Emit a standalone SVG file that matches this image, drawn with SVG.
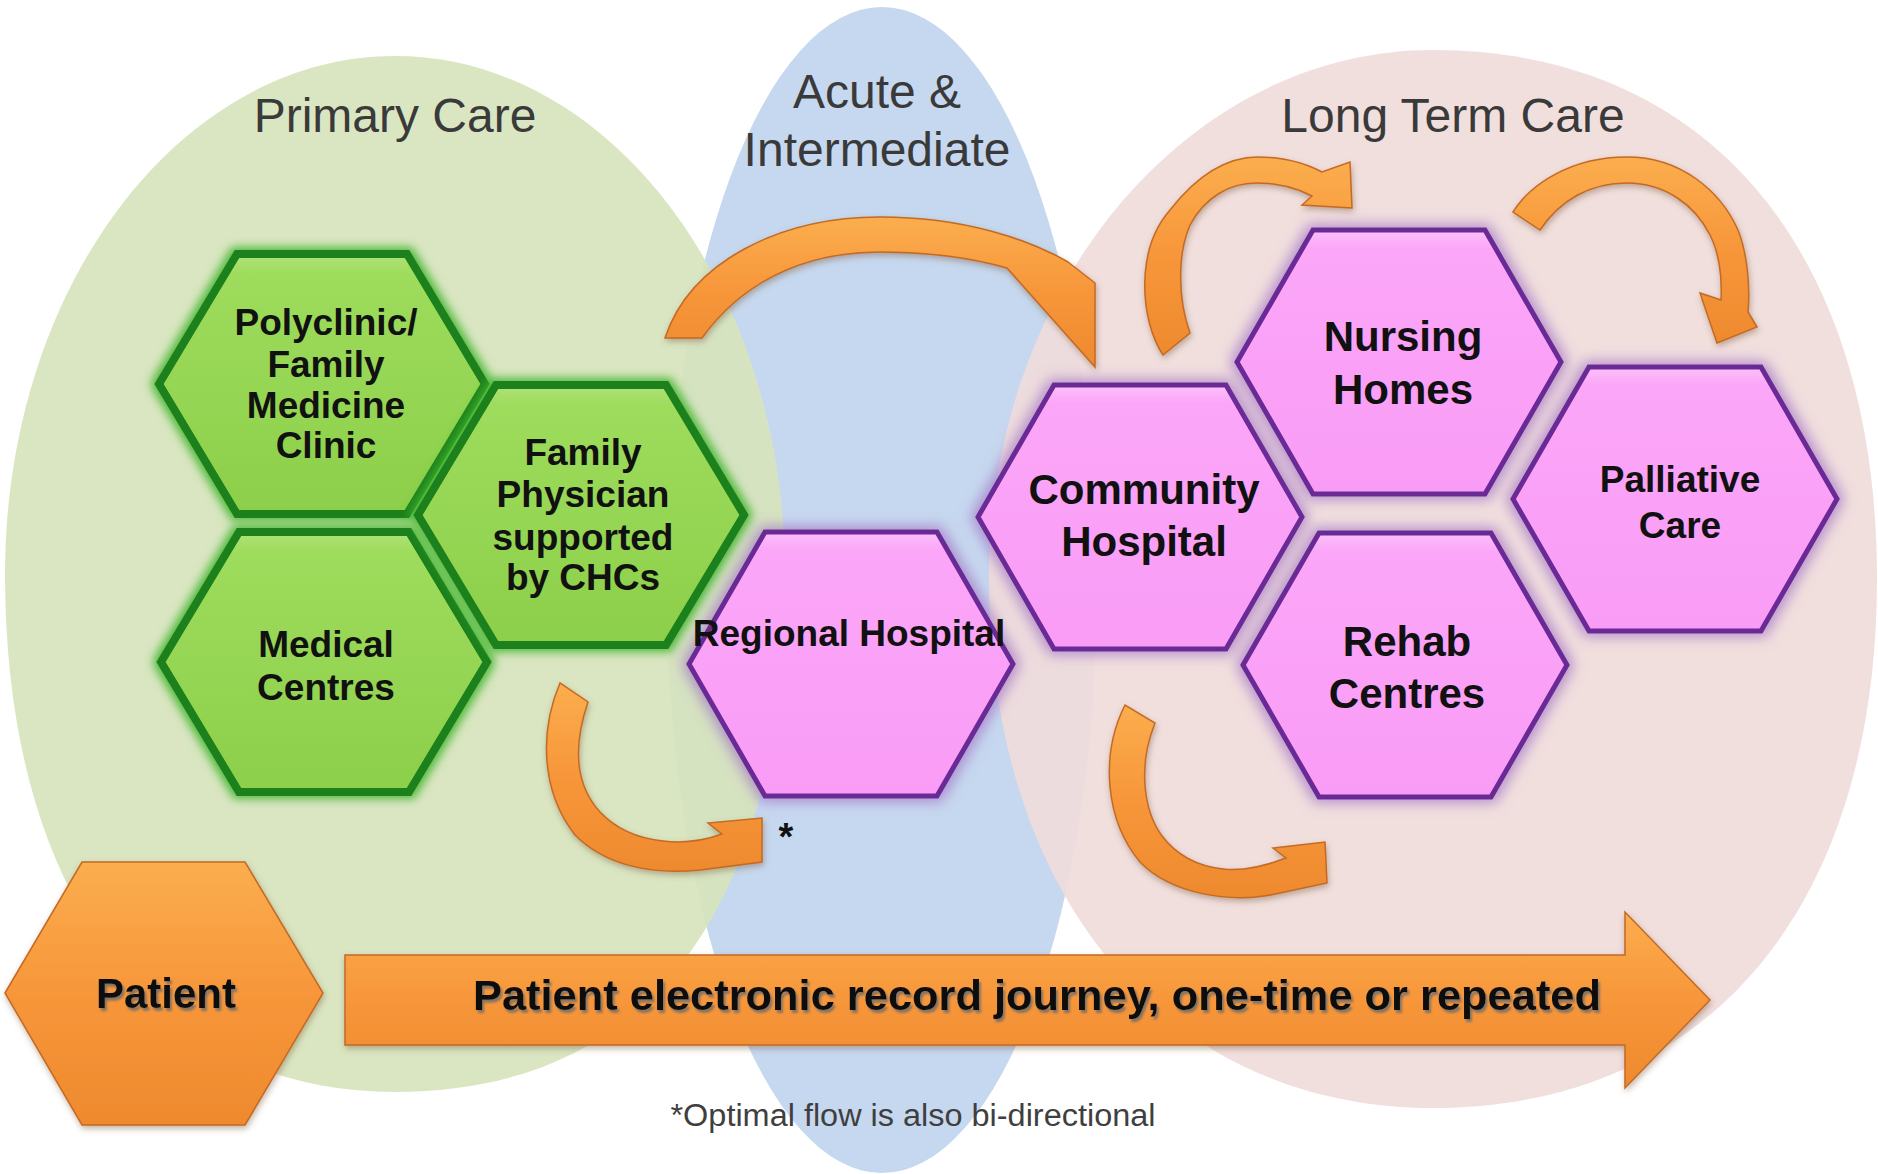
<svg xmlns="http://www.w3.org/2000/svg" xmlns:xlink="http://www.w3.org/1999/xlink" width="1878" height="1174" viewBox="0 0 1878 1174">
<style>
.title{font-family:"Liberation Sans",Arial,sans-serif;font-size:48px;fill:#3a3a3a;text-anchor:middle}
.lbl{font-family:"Liberation Sans",Arial,sans-serif;font-weight:bold;fill:#111;text-anchor:middle}
.s37{font-size:37px}
.s42{font-size:42px}
.green{fill:url(#gGreen);stroke:#1a801a;stroke-width:8;stroke-linejoin:miter;filter:url(#glowG)}
.pink{fill:url(#gPink);stroke:#6a2a96;stroke-width:5;stroke-linejoin:miter;filter:url(#glowP)}
.orange{fill:url(#gOrange);stroke:#c46a24;stroke-width:1.5;filter:url(#shadowO)}
.sh{filter:url(#tShadow)}
</style>
<defs>
<linearGradient id="gGreen" x1="0" y1="0" x2="0" y2="1">
<stop offset="0" stop-color="#aee277"/><stop offset="0.08" stop-color="#9edc5c"/><stop offset="1" stop-color="#8ccf4a"/>
</linearGradient>
<linearGradient id="gPink" x1="0" y1="0" x2="0" y2="1">
<stop offset="0" stop-color="#fcc0fb"/><stop offset="0.07" stop-color="#fba6f8"/><stop offset="1" stop-color="#f99cf6"/>
</linearGradient>
<linearGradient id="gOrange" x1="0" y1="0" x2="0" y2="1">
<stop offset="0" stop-color="#fbae4e"/><stop offset="0.5" stop-color="#f7963a"/><stop offset="1" stop-color="#ee8a2e"/>
</linearGradient>
<filter id="glowG" x="-20%" y="-20%" width="140%" height="140%">
<feMorphology in="SourceAlpha" operator="dilate" radius="3" result="d"/>
<feGaussianBlur in="d" stdDeviation="5" result="b"/>
<feFlood flood-color="#3fb42a" flood-opacity="0.9"/>
<feComposite in2="b" operator="in" result="g"/>
<feMerge><feMergeNode in="g"/><feMergeNode in="SourceGraphic"/></feMerge>
</filter>
<filter id="glowP" x="-20%" y="-20%" width="140%" height="140%">
<feMorphology in="SourceAlpha" operator="dilate" radius="3" result="d"/>
<feGaussianBlur in="d" stdDeviation="7" result="b"/>
<feFlood flood-color="#a070c4" flood-opacity="0.75"/>
<feComposite in2="b" operator="in" result="g"/>
<feMerge><feMergeNode in="g"/><feMergeNode in="SourceGraphic"/></feMerge>
</filter>
<filter id="shadowO" x="-20%" y="-20%" width="140%" height="140%">
<feDropShadow dx="1" dy="3" stdDeviation="3" flood-color="#7a5a3a" flood-opacity="0.45"/>
</filter>
<filter id="tShadow" x="-10%" y="-30%" width="120%" height="160%">
<feDropShadow dx="2" dy="3" stdDeviation="1" flood-color="#6a6a6a" flood-opacity="0.8"/>
</filter>
<polygon id="hexG" points="-163,0 -85,-130 85,-130 163,0 85,130 -85,130"/>
<polygon id="hexP" points="-162,0 -86,-132 86,-132 162,0 86,132 -86,132"/>
</defs>

<rect width="1878" height="1174" fill="#ffffff"/>

<g id="regions">
<ellipse id="region-acute" cx="882" cy="590" rx="215" ry="583" fill="#c6d8ef"/>
<path id="region-primary" d="M 785,574 C 785,910.7 648.5,1092 395,1092 C 153.2,1092 5,895.2 5,574 C 5,288 179.7,56 395,56 C 610.3,56 785,288 785,574 Z" fill="#d7e4bd" fill-opacity="0.92"/>
<path id="region-ltc" d="M 1877,579 C 1877,907 1708.3,1108 1433,1108 C 1166.6,1108 989,896.4 989,579 C 989,287 1187.9,50 1433,50 C 1708.3,50 1877,251 1877,579 Z" fill="#f0dcdb" fill-opacity="0.92"/>
<text class="title" x="395" y="132">Primary Care</text>
<text class="title" x="877" y="108">Acute &amp;</text>
<text class="title" x="877" y="166">Intermediate</text>
<text class="title" x="1453" y="132">Long Term Care</text>
</g>

<g id="connectors">
<path class="orange" d="M 665,338 C 690,262 780,217 880,217 C 965,217 1030,240 1068,262 L 1095,283 L 1095,367 L 1007,268 C 965,256 925,252 880,252 C 800,252 740,285 702,338 Z"/>
<path class="orange" d="M 1163,355 C 1140,320 1135,250 1170,210 C 1195,178 1225,157 1258,157 C 1285,157 1305,163 1322,172 L 1350,162 L 1352,208 L 1302,205 L 1312,196 C 1295,187 1275,183 1256,183 C 1230,183 1205,197 1190,225 C 1177,255 1178,300 1190,333 Z"/>
<path class="orange" d="M 1513,212 C 1530,185 1570,157 1627,157 C 1680,157 1720,190 1738,230 C 1748,255 1750,290 1748,312 L 1757,327 L 1717,343 L 1700,293 L 1721,300 C 1722,280 1720,255 1710,235 C 1695,205 1665,183 1627,183 C 1590,183 1560,200 1540,230 Z"/>
<path class="orange" d="M 560,683 C 540,730 540,790 575,835 C 605,865 650,875 700,870 L 762,862 L 762,818 L 708,823 L 722,834 C 700,842 680,843 663,841 C 635,838 615,828 600,812 C 580,790 570,755 588,702 Z"/>
<path class="orange" d="M 1125,705 C 1100,755 1105,820 1140,862 C 1170,893 1230,905 1280,893 L 1327,883 L 1325,842 L 1273,848 L 1286,858 C 1260,868 1240,871 1223,869 C 1195,866 1175,853 1162,836 C 1143,810 1138,765 1155,723 Z"/>
<path id="journey-arrow" class="orange" d="M 345,955 L 1625,955 L 1625,912 L 1710,1000 L 1625,1088 L 1625,1045 L 345,1045 Z"/>
<text class="lbl s42 sh" x="1037" y="1010" textLength="1128" lengthAdjust="spacingAndGlyphs">Patient electronic record journey, one-time or repeated</text>
</g>

<g id="node-polyclinic">
<use href="#hexG" x="322" y="384" class="green"/>
<text class="lbl s37" x="326" y="335">Polyclinic/</text>
<text class="lbl s37" x="326" y="377">Family</text>
<text class="lbl s37" x="326" y="418">Medicine</text>
<text class="lbl s37" x="326" y="458">Clinic</text>
</g>
<g id="node-medical-centres">
<use href="#hexG" x="324" y="662" class="green"/>
<text class="lbl s37" x="326" y="657">Medical</text>
<text class="lbl s37" x="326" y="700">Centres</text>
</g>
<g id="node-family-physician">
<use href="#hexG" x="581" y="515" class="green"/>
<text class="lbl s37" x="583" y="465">Family</text>
<text class="lbl s37" x="583" y="507">Physician</text>
<text class="lbl s37" x="583" y="550">supported</text>
<text class="lbl s37" x="583" y="590">by CHCs</text>
</g>
<g id="node-regional-hospital">
<use href="#hexP" x="851" y="664" class="pink"/>
<text class="lbl s37" x="849" y="646">Regional Hospital</text>
<text class="lbl" x="786" y="850" font-size="38">*</text>
</g>
<g id="node-community-hospital">
<use href="#hexP" x="1140" y="517" class="pink"/>
<text class="lbl s42" x="1144" y="504">Community</text>
<text class="lbl s42" x="1144" y="556">Hospital</text>
</g>
<g id="node-nursing-homes">
<use href="#hexP" x="1399" y="362" class="pink"/>
<text class="lbl s42" x="1403" y="351">Nursing</text>
<text class="lbl s42" x="1403" y="404">Homes</text>
</g>
<g id="node-rehab-centres">
<use href="#hexP" x="1405" y="665" class="pink"/>
<text class="lbl s42" x="1407" y="656">Rehab</text>
<text class="lbl s42" x="1407" y="708">Centres</text>
</g>
<g id="node-palliative-care">
<use href="#hexP" x="1675" y="499" class="pink"/>
<text class="lbl s37" x="1680" y="492">Palliative</text>
<text class="lbl s37" x="1680" y="538">Care</text>
</g>
<g id="node-patient">
<polygon class="orange" points="5,993 82,862 245,862 323,993 245,1125 82,1125"/>
<text class="lbl s42 sh" x="166" y="1008">Patient</text>
</g>

<text x="913" y="1126" font-family="'Liberation Sans',Arial,sans-serif" font-size="31" fill="#3f3f3f" text-anchor="middle" textLength="485" lengthAdjust="spacingAndGlyphs">*Optimal flow is also bi-directional</text>
</svg>
